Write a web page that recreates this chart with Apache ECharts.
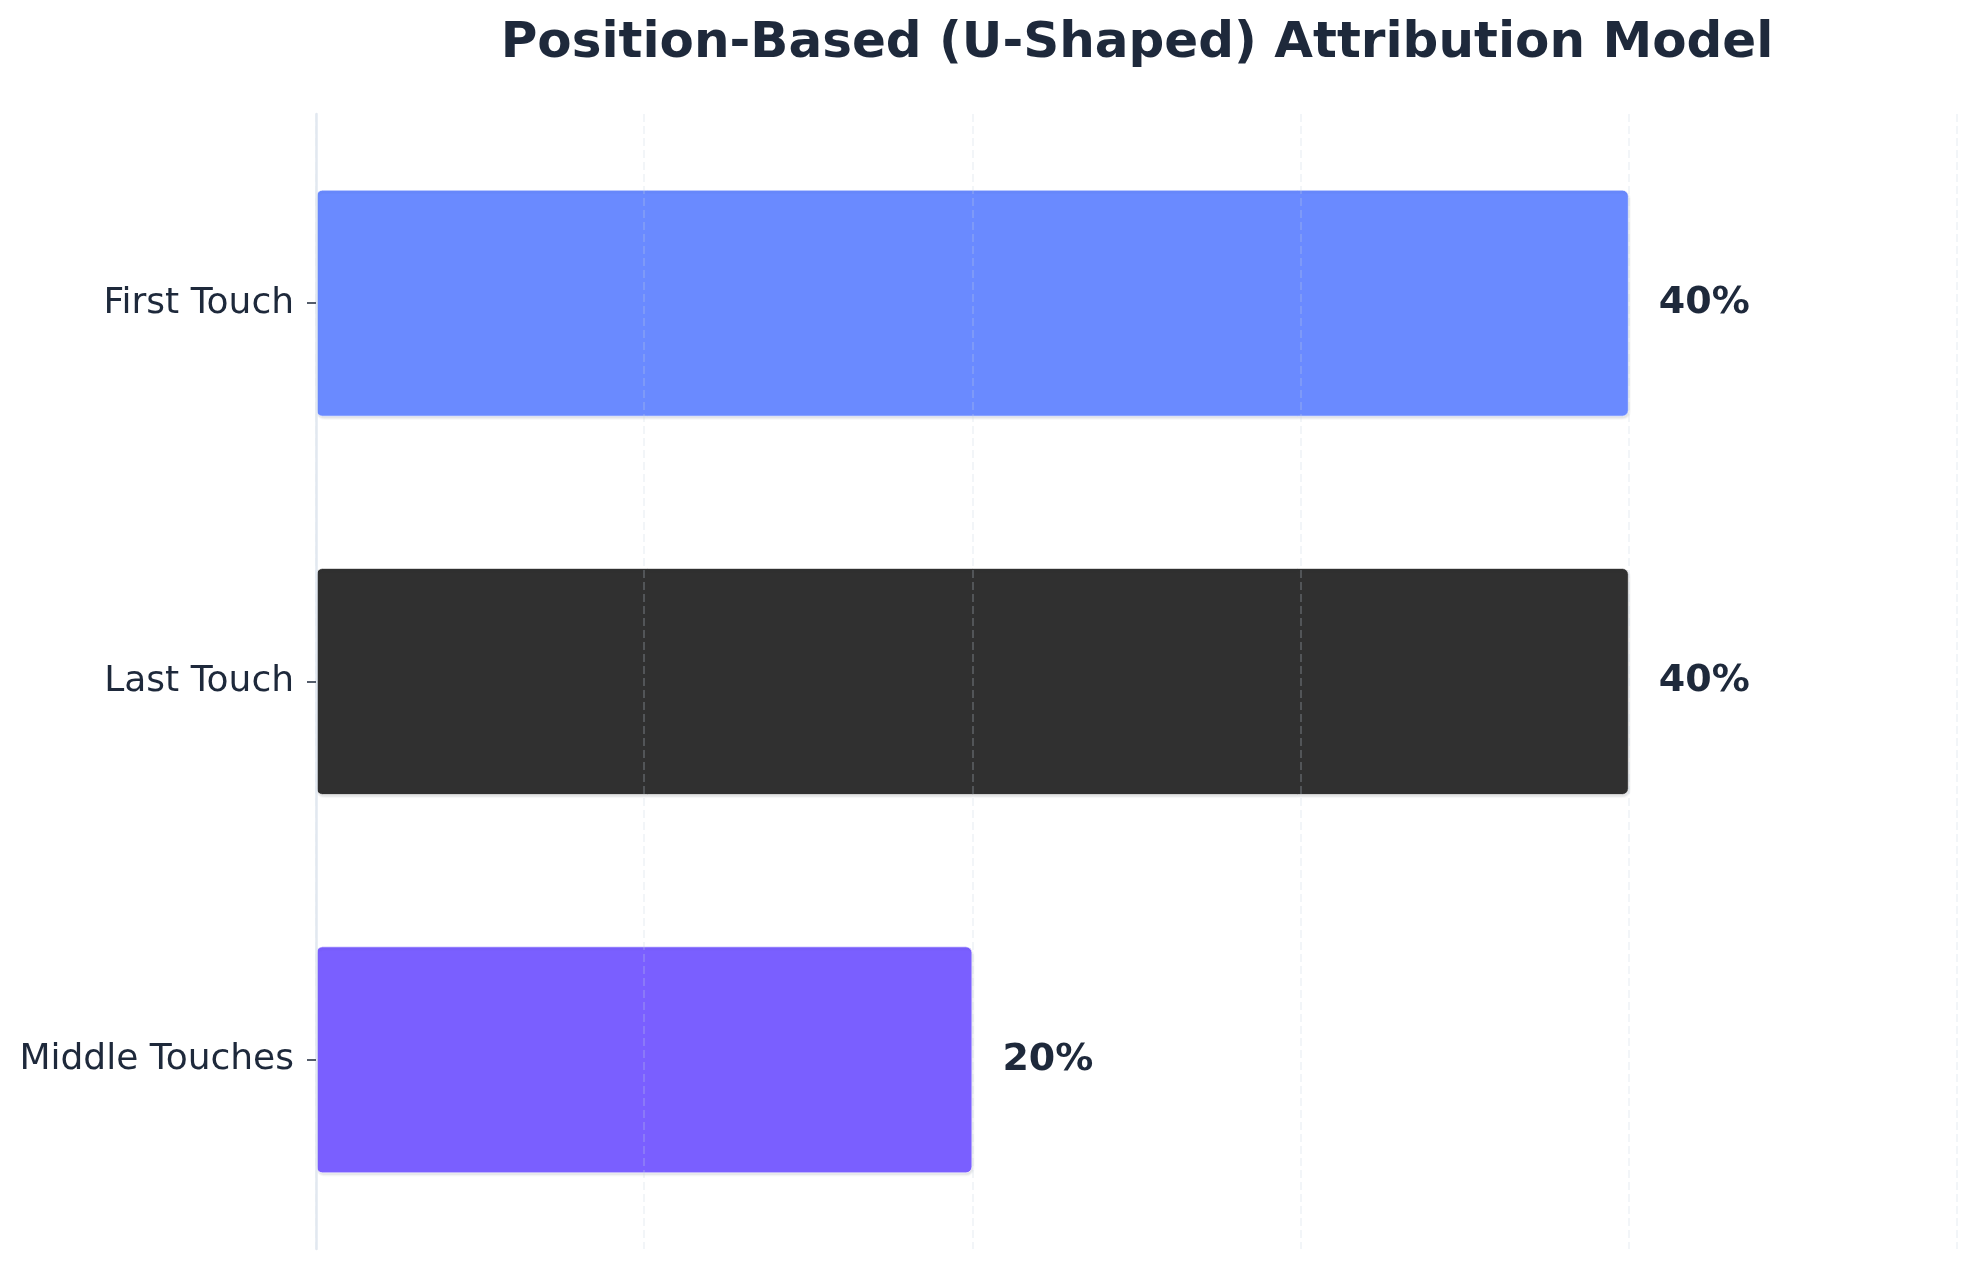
<!DOCTYPE html>
<html>
<head>
    <meta charset="UTF-8">
    <title>U-shaped attribution</title>
    <script src="https://cdn.jsdelivr.net/npm/echarts@6/dist/echarts.min.js"></script>
    <style type="text/css">
        body { margin: 0; padding: 0; background: #fff; }
        #chart { width: 1979px; height: 1268px; }
    </style>
</head>
<body>
    <div id="chart"></div>
    <script type="text/javascript">
        // touchpoint categories, top to bottom
        var touchpoints = ['First Touch', 'Last Touch', 'Middle Touches'];
        // credit share in percent
        var creditShare = [40, 40, 20];
        var barColors = ['#6A8AFF', '#303030', '#7A5FFF'];
        var xTicks = [0, 10, 20, 30, 40, 50];

        var textColor = '#1E293B';
        var font = 'DejaVu Sans';

        var chart = echarts.init(document.getElementById('chart'));

        var option = {
            backgroundColor: '#ffffff',
            animation: false,
            title: {
                text: 'Position-Based (U-Shaped) Attribution Model',
                left: 1132,
                top: 14,
                textAlign: 'center',
                textStyle: {
                    fontFamily: font,
                    fontSize: 50,
                    fontWeight: 'bold',
                    color: textColor
                }
            },
            grid: {
                left: 316,
                right: 22,
                top: 114,
                bottom: 19,
                containLabel: false
            },
            xAxis: {
                type: 'value',
                min: xTicks[0],
                max: xTicks[xTicks.length - 1],
                interval: xTicks[1] - xTicks[0],
                z: 5,
                axisLine: { show: false },
                axisTick: { show: false },
                axisLabel: { show: false },
                splitLine: {
                    show: true,
                    lineStyle: {
                        color: 'rgba(203,213,225,0.3)',
                        width: 1.5,
                        type: [8, 4]
                    }
                }
            },
            yAxis: {
                type: 'category',
                data: touchpoints,
                inverse: true,
                z: 6,
                axisLine: {
                    show: true,
                    lineStyle: { color: '#E2E8F0', width: 2.5 }
                },
                axisTick: {
                    show: true,
                    alignWithLabel: true,
                    length: 9,
                    lineStyle: { color: '#1E293B', width: 1.5 }
                },
                axisLabel: {
                    margin: 22,
                    fontFamily: font,
                    fontSize: 36,
                    color: textColor
                },
                splitLine: { show: false }
            },
            series: [{
                type: 'bar',
                barWidth: '60%',
                z: 2,
                data: creditShare.map(function (v, i) {
                    return {
                        value: v,
                        itemStyle: { color: barColors[i] }
                    };
                }),
                itemStyle: {
                    borderRadius: 6,
                    borderColor: 'rgba(255,255,255,0.6)',
                    borderWidth: 1,
                    shadowColor: 'rgba(30,41,59,0.12)',
                    shadowBlur: 2,
                    shadowOffsetX: 1,
                    shadowOffsetY: 2
                },
                label: {
                    show: true,
                    position: 'right',
                    distance: 30,
                    formatter: '{c}%',
                    fontFamily: font,
                    fontSize: 38,
                    fontWeight: 'bold',
                    color: textColor
                }
            }]
        };

        chart.setOption(option);
    </script>
</body>
</html>
